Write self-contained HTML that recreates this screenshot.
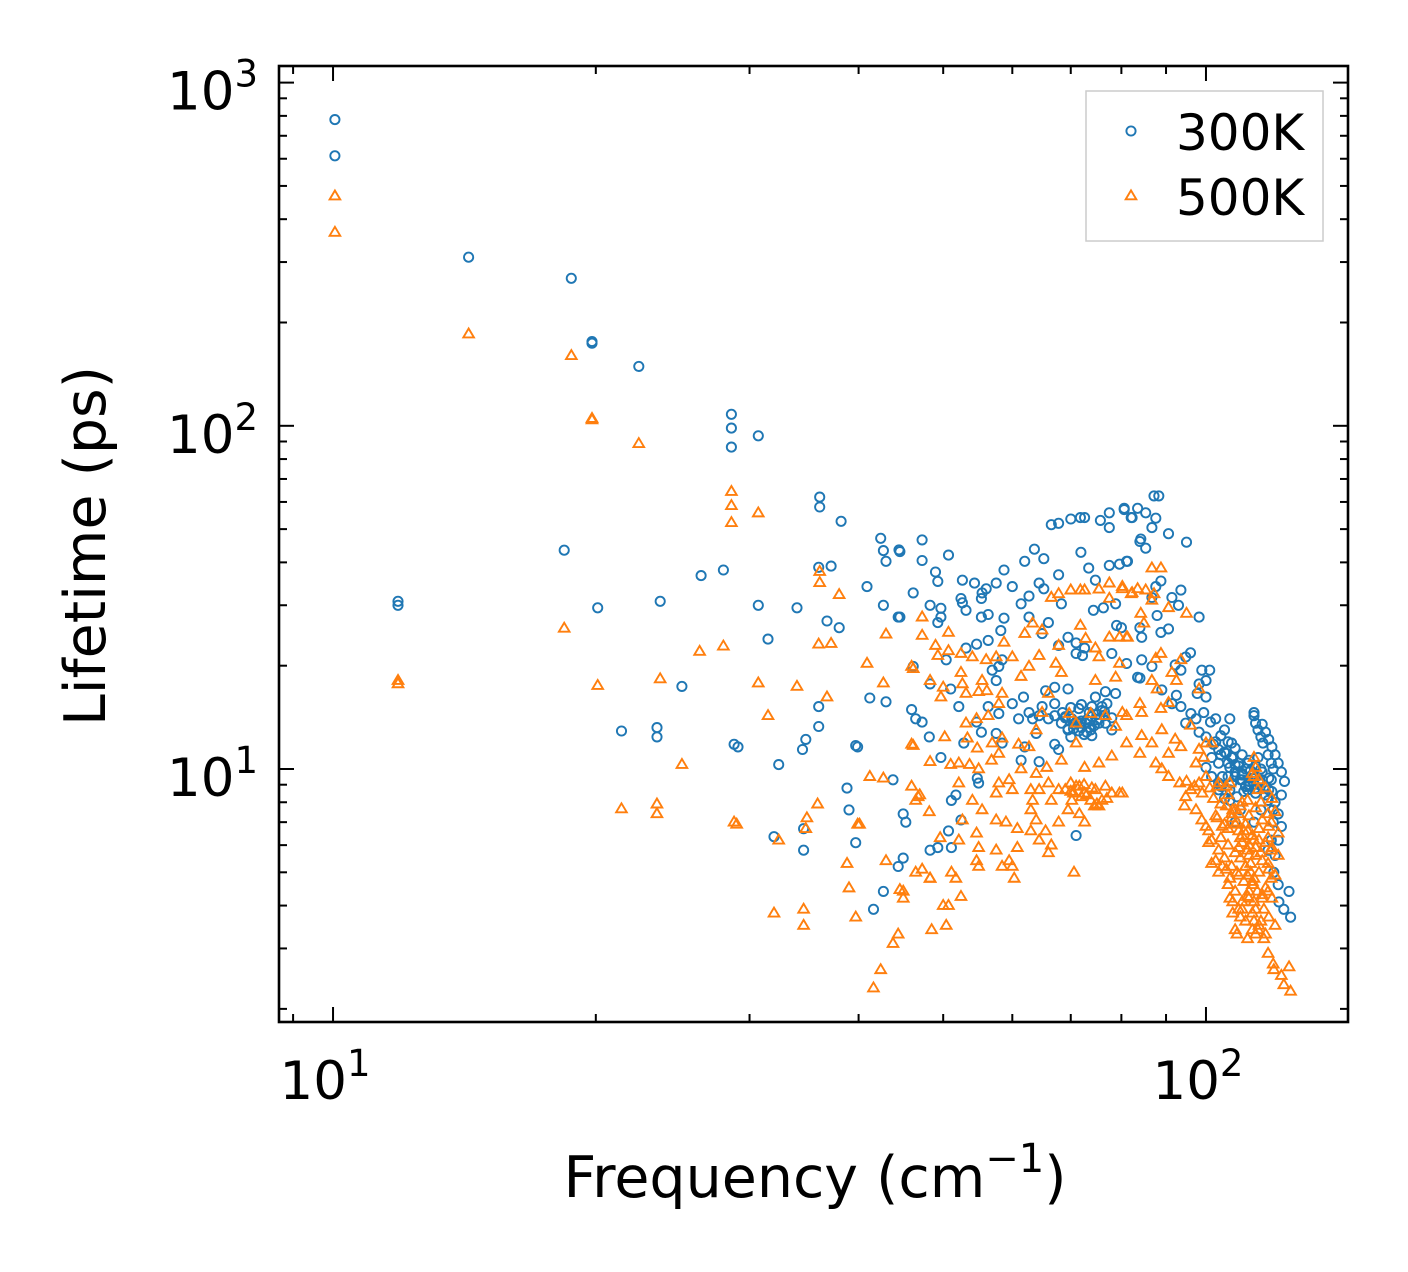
<!DOCTYPE html>
<html><head><meta charset="utf-8"><style>
html,body{margin:0;padding:0;background:#fff;}
svg{display:block;font-family:"DejaVu Sans","Liberation Sans",sans-serif;}
</style></head><body>
<svg id="chart" width="1408" height="1272" viewBox="0 0 1408 1272" xmlns="http://www.w3.org/2000/svg">
<rect width="1408" height="1272" fill="#fff"/>
<g id="marks"></g>
<g id="axes"></g>
</svg>
<script>
const xTickValues=[10,100];
const xTickExps=["1","2"];
const yTickValues=[10,100,1000];
const yTickExps=["1","2","3"];
const seriesNames=["300K","500K"];
const freq300=[10.05,10.05,11.87,11.87,14.3,18.75,18.4,19.8,19.8,20.1,22.4,21.4,23.5,23.5,23.7,25.1,26.4,28.0,28.6,28.6,28.6,28.8,29.1,30.7,30.7,31.5,32.4,32.0,34.0,34.5,34.8,34.6,34.6,36.0,36.0,36.0,36.1,36.1,36.8,37.2,38.0,38.2,38.8,39.0,39.7,39.9,39.7,40.9,41.2,41.6,42.4,42.7,42.7,42.7,43.0,43.0,43.8,44.5,44.6,
44.6,47.3,47.3,50.7,49,49.3,52.6,54.3,56,57.5,58.7,62,63.6,65.2,66.5,67.8,70,71.8,72.6,75.7,77.5,80.6,82.3,77.5,84,71.9,73.4,74.7,77.5,79.6,81.3,67.8,64.4,65.2,60,46.2,52.4,52.6,55.4,55.3,61.4,62.7,68.3,74.3,76.3,78.8,79,48.3,49.7,53.1,49.3,49.7,55.3,56.3,58.7,62.7,66,64.9,69.5,71,72.6,67.8,71,72.2,78,81.1,83.5,53.1,54.6,56.3,58.2,58.4,56.9,57.5,57.9,50.4,46.2,48.3,51,52.1,46,46.5,47.3,48.2,49.7,54.6,55.3,52.8,56.3,57.9,57.5,58.4,60,61.8,61,62.7,63.3,63.9,65.5,67.1,69.5,67.1,64.9,64.4,66,67.1,68.3,70.2,71.8,72.8,73.8,75.4,76.7,74.7,76.7,78.8,76,78,67.1,67.8,64.4,62,61.4,69.5,70,54.9,54.7,51.7,51.1,45,45.3,50.7,48.3,49.3,51.1,45,44.4,71,52.4,44.4,
87.2,88.3,80.6,83.5,82.1,85.3,87.6,86.7,90.6,95,84.2,85.3,81.1,88.8,87.6,93.6,86.7,91.4,93,87.9,98.2,84,90.6,88.8,84.4,80,96,94.8,84.4,86.7,84,92.2,93.6,98.9,101,100,98.2,97.7,100,92.5,89,91.4,93.6,96.1,94.8,97.4,99.4,101.2,102.6,106.5,105,98.2,100,102.6,107,105.5,107.3,103.4,101.5,103.4,106.5,108,104.4,109.5,111,106.5,108.5,113.5,113.5,114,114.7,115.6,116.2,117.8,118.8,119.4,118.8,118,117.8,119.4,119.4,118.8,117.8,119.6,121,124.5,122.8,125,121.2,114.7,115.6,115,115.6,113.5,111.6,111.6,103.4,101.5,100,109.5,108,106.5,103.4,
72,74,70.5,73,75,71.5,69,73.5,76,72.5,70,74.5,68.5,71,73,75.5,72,69.5,74,76.5,110,112,108,111,113,109,107,110.5,112.5,114,116,117,105,104,106,108,110,112,
104,106,108,110,112,114,116,118,105,107,109,111,113,115,117,119,120,121,122,121,120,116,117,118,119,120,121,122,123,122,102,104,106,108,110,112,114,
72,73.5,75,76.5,70.5,71.5,74,77,69,78];
const life300=[780,612,30.8,30,310,269,43.4,176,174,29.5,149,12.9,13.2,12.4,30.8,17.4,36.6,38,108,98.5,86.7,11.8,11.6,93.5,30,23.9,10.3,6.35,29.5,11.4,12.2,5.8,6.7,13.3,15.2,38.7,62,58,27,39,25.8,52.7,8.8,7.6,11.7,11.6,6.1,34,16.1,3.9,47,43.3,30,4.4,15.7,40.3,9.3,43.5,27.7,
43,46.5,40.5,42,37.5,35.2,35.5,34.8,33.5,34.8,38,40.3,43.7,41,51.5,52,53.5,54,54,53,55.8,57,54,50.5,46,42.8,38.5,35.5,39.2,39.5,40.3,36.8,34.8,33.5,34,32.6,31.4,30.5,32.6,31.4,30.3,31.9,30.3,29,29.5,30.3,26.2,30,29.4,29,26.7,27.7,27.7,28.2,27.5,27.7,26.7,24.8,24.2,23.3,22.5,22.9,21.7,21.4,21.7,20.3,18.5,22.5,23.1,23.7,25.3,20.8,19.4,18.1,19.9,20.8,19.9,17.7,17.1,15.2,14.9,14,13.7,12.4,10.8,13.7,12.8,11.9,15.2,14.5,12.7,11.9,15.5,16.2,14,14.6,14,12.7,16.9,17.3,17.1,15.5,15.2,14.3,14,14.3,13.6,14,13.6,13.6,13,13.6,13.6,16.2,16.8,16.6,15.2,13,11.8,11.4,10.5,11.6,10.6,13,12.4,9.1,9.4,8.4,8.1,7.4,7,6.6,5.8,5.9,5.9,5.5,5.2,6.4,7.1,27.7,
62.5,62.5,57.5,57.5,54,55.8,53.8,50.5,48.5,45.8,46.8,44,40.3,35.3,34,33.2,31.6,31.6,30,28,27.7,25.8,25.6,25,24.2,25.8,21.8,21.2,20.8,19.9,18.4,20.1,19.4,19.4,19.4,18.1,17.7,16.6,16.2,16.4,17,15.5,15.2,14.5,13.6,14,14.6,13.7,14,14,13,12.8,12.4,12,11.9,11.1,10.8,11.4,10.8,10.4,10.1,9.5,9.5,9.3,8.9,8.7,8.3,14.6,14.3,13.6,13,12.4,11.9,11,10.4,10,9.3,8.7,8.1,7.6,7,6.2,5.8,5,4.6,4.4,3.9,3.7,4.1,10.8,10,9.1,7.6,7,10.4,8.7,9.1,9.5,10.1,7.6,7,8.1,8.7,
13.8,14.2,13.5,13.9,14.4,12.9,14.1,13.2,14.8,12.6,15.1,13.4,14.6,13.7,12.8,14,15.4,13.1,12.5,14.3,9.6,9.2,9.8,8.9,9.4,10.2,9.1,8.6,9.9,8.8,9.3,8.4,8.2,8.9,9.5,10.3,9.7,9.0,
12.5,12,11.5,11,10.6,10.2,9.8,9.4,11.2,10.8,10.4,10,9.6,9.2,8.9,8.6,8.0,7.4,6.8,6.2,5.6,13.5,12.8,12.2,11.6,11.0,10.4,9.8,9.2,8.4,11.8,11.0,10.4,9.8,9.3,8.9,8.5,
13.2,14.6,13.9,14.7,13.1,15.0,15.2,15.5,14.2,14.1];
const freq500=[10.05,10.05,11.87,11.87,14.3,18.75,18.4,19.8,19.8,20.1,21.4,22.4,23.5,23.5,23.7,25.1,26.3,28.0,28.6,28.6,28.6,28.8,29.0,30.7,30.7,31.5,32.0,32.4,34.0,34.6,34.6,34.9,34.8,35.9,36.0,36.1,36.1,36.8,37.2,38.0,38.8,39.0,39.7,39.9,40.1,40.9,41.2,41.6,42.4,42.7,42.7,43,43,43.8,44.4,44.6,45,46.2,46,46.5,47,47.3,48.3,48.5,50,50.4,
47.3,47.3,50.7,46,49,49.3,50.7,52.4,54,56,57.5,60,58.7,62,63.3,64.9,66.5,67.8,70,71.8,72.6,75.4,77.5,77.5,80.2,82.3,71.8,67.8,72.8,74.7,77.5,79.6,81.3,75.4,79.6,64.4,62.7,61.4,67.3,68.3,74.7,78.8,48.3,50,49.7,52.4,52.6,53.1,54.9,55.4,56.1,58.4,57.9,56.3,53.1,54.6,53.3,50.2,46.2,48.3,51,52.1,53.6,54.7,54.9,56.9,58.4,57.9,56.8,61,62.7,63.9,64.9,66,69.7,71,73.8,76.7,78.8,81.1,71,81.1,78,75.4,72.6,68.3,65.7,63.9,61.4,59.5,57.9,57.5,60,63,64.4,66,67.8,70,71.6,72.6,74.7,76.7,78,80.2,73.8,75.4,70.2,66.5,63.3,63,63.9,69.5,71.6,72.6,67.8,65.5,63,60.8,59,57.5,55.4,54,52.1,46,46.8,48.2,52.6,54.6,52.1,49.6,54.9,57.5,60.8,66.5,66,64.4,59.5,54.6,54.9,58.4,60,60.3,70.6,46.5,48.3,51.1,51.7,52.4,45,50.7,
86.7,88.8,80.2,83.5,82.1,85.3,87.2,86.7,90.6,95,84.2,84.9,81.1,88.8,87.6,93.6,86.7,91.4,92.5,87.9,98.2,84,90.6,88.8,84.4,80.2,96,89,84.4,86.7,84,92.2,90.6,93.6,87.6,90.6,89,93.3,97.4,98.2,100,99.4,101.5,94.8,94.5,96.1,98.2,100,97.4,98.9,100.7,101.5,103.4,101.5,103.4,106.5,105.5,106.5,107.3,108.5,111.6,114.7,116.5,117.8,119.4,119.6,122,124.5,122.8,125,103.4,105.5,106.5,105.5,107.3,109.5,111.6,113.5,114,113.5,114.7,115.6,117.8,118.8,117.8,118.8,117.8,118.8,117.8,116.5,115.6,108.5,109.5,111.6,113.5,111.6,109.5,112.5,108.5,110.5,113.5,111.6,107.3,113.5,109.5,113.5,104.4,102.6,100,100.7,102.6,104.4,79.6,
70,72,74,76,71,73,75,69,77,72.5,74.5,70.5,110,112,114,108,111,113,115,109,116,107,110.5,112.5,114.5,106,111.5,113,115.5,109,108,110,112,114,
102,104,106,108,110,112,114,116,118,103,105,107,109,111,113,115,117,119,104,106,108,110,112,114,116,118,120,105,107,109,111,113,115,117,119,106,108,110,112,114,116,118,120,109,111,113,115,117,101,103,99,97,95,121,121,120,119,117,115,113];
const life500=[467,366,18.1,17.7,185,160,25.7,105,104,17.5,7.65,88.7,7.9,7.4,18.3,10.3,22.0,22.8,64.3,58.5,52.2,7.0,6.9,55.7,17.8,14.3,3.8,6.2,17.4,3.9,3.5,7.2,6.7,7.9,23.1,37.6,34.9,16.2,23.2,32.2,5.3,4.5,3.7,6.9,6.9,20.3,9.5,2.3,2.6,9.4,17.8,24.7,5.4,3.1,3.3,4.45,4.2,19.6,11.8,8.1,8.4,5.1,4.8,3.4,4.0,3.5,
27.7,24.5,25,19.9,22.9,21.4,22.1,21.7,21.2,20.8,21.2,21.2,23.4,24.8,26.6,25.4,31.6,32.4,33.2,33.2,33.2,33.4,34.8,31.4,34,32.6,26.2,22.9,24,22.5,24.2,24.2,24.2,21.2,20.3,21.4,19.9,18.6,20.3,19.1,18.1,18.5,18.1,17.3,16.2,19.1,17.7,16.6,16.8,18.1,16.9,16.6,15.5,14.3,13.6,14,12.3,12.4,11.7,10.5,10.3,10.4,10.3,11.5,10,11.9,12.3,11.1,10.6,11.8,11.6,13,14.6,16.6,14.5,13.6,14.5,14.3,13.3,14.3,11.9,11.9,10.9,10.4,10.1,10.6,10.1,9.7,10,9.3,9.1,8.5,8.7,8.7,8.7,9.1,8.7,9.1,8.9,8.5,8.7,8.9,8.5,8.5,8.1,7.8,8.1,8.1,8.1,7.6,7.1,7.6,7.4,7,7,6.6,6.6,6.7,7,7.1,7.6,8.1,9.1,8.9,8.3,7.5,7.1,6.5,6.2,6.3,5.9,5.8,5.9,6,5.7,6.2,5.4,5.4,5.2,5.2,5.2,4.8,5,5,4.8,5,4.8,4.25,4.4,4,
38.5,38.5,33.5,33.5,32.4,33.2,32.4,31,29.5,28.4,28.4,26.6,24.2,21.7,21,20.8,18.1,19.1,18.1,17.1,17.1,15.5,15.6,15,14.6,14.6,13.4,13,12.5,11.9,11.1,12.2,11.1,11.6,10.4,9.5,10,9.1,10.4,11.4,11.9,10.8,11.9,8.3,7.8,8.7,9.1,9.5,7.6,7.1,6.6,6.2,5.8,5.3,5,4.8,5.1,4.2,3.8,3.3,3.2,3.4,3.2,2.9,2.7,2.6,2.5,2.65,2.35,2.25,9.1,8.9,9.1,7.8,7.6,7.8,8.1,10.8,10.1,9.5,8.7,8,7.4,7,6.3,5.8,5.3,4.8,4.4,3.9,3.6,7,6.3,6.6,6.2,5.8,5.5,5.3,5,4.7,4.8,4.25,4.1,4.1,3.7,3.6,6.8,7.3,6.8,6.1,5.4,5.2,8.5,
8.6,8.3,8.8,8.1,8.9,8.4,7.9,8.7,8.2,9.0,7.8,8.5,6.4,6.0,5.6,6.9,5.2,4.6,6.2,5.9,4.3,7.2,6.6,5.0,4.4,6.7,4.9,3.8,5.7,7.4,3.4,3.9,4.2,3.3,
8.2,7.9,8.4,7.6,8.0,7.3,7.7,7.1,6.8,7.2,6.9,7.4,6.6,6.9,6.4,6.7,6.1,5.9,6.3,6.0,5.7,6.1,5.6,5.9,5.4,5.1,4.9,5.5,5.2,4.9,5.2,4.7,5.0,4.5,4.2,4.6,4.4,4.1,4.4,3.9,4.2,3.7,3.5,3.9,3.6,3.4,3.5,3.3,8.8,8.9,8.5,8.9,9.2,6.5,5.6,7.5,8.2,8.8,9.3,9.7];

const NS="http://www.w3.org/2000/svg";
const L=279,R=1348,T=66,B=1022;
const xLogMin=0.9381,xLogMax=2.1627,yLogMin=0.2628,yLogMax=3.0484;
function xs(v){return L+(Math.log10(v)-xLogMin)/(xLogMax-xLogMin)*(R-L);}
function ys(v){return B-(Math.log10(v)-yLogMin)/(yLogMax-yLogMin)*(B-T);}
function mk(tag,attrs,parent){const e=document.createElementNS(NS,tag);for(const k in attrs)e.setAttribute(k,attrs[k]);parent.appendChild(e);return e;}
const marks=document.getElementById('marks');
const axes=document.getElementById('axes');
const blue="#1f77b4",orange="#ff7f0e";
const g300=mk('g',{},marks);


for(let i=0;i<freq300.length;i++){
  const c=mk('circle',{cx:xs(freq300[i]).toFixed(1),cy:ys(life300[i]).toFixed(1),r:4.6,fill:'none',stroke:blue,'stroke-width':1.9},g300);
  
  
}
const g500=mk('g',{},marks);


function tri(cx,cy,s){return `${cx},${cy-s} ${cx-s*0.95},${cy+s*0.6} ${cx+s*0.95},${cy+s*0.6}`;}
for(let i=0;i<freq500.length;i++){
  const p=mk('polygon',{points:tri(xs(freq500[i]),ys(life500[i]),5.6),fill:'none',stroke:orange,'stroke-width':1.9},g500);
  
  
}
const tk=mk('g',{stroke:'#000','stroke-width':2},axes);


for(let d=0;d<=3;d++){for(let m=1;m<=9;m++){
  const v=m*Math.pow(10,d);const lv=Math.log10(v);
  const len=m===1?15:8;
  if(lv>=xLogMin&&lv<=xLogMax){const x=xs(v);mk('line',{x1:x,x2:x,y1:B,y2:B-len},tk);mk('line',{x1:x,x2:x,y1:T,y2:T+len},tk);}
  if(lv>=yLogMin&&lv<=yLogMax){const y=ys(v);mk('line',{x1:L,x2:L+len,y1:y,y2:y},tk);mk('line',{x1:R,x2:R-len,y1:y,y2:y},tk);}
}}
const frame=mk('rect',{x:L,y:T,width:R-L,height:B-T,fill:'none',stroke:'#000','stroke-width':2.6},axes);


for(let i=0;i<xTickValues.length;i++){
  const t=mk('text',{x:xs(xTickValues[i])-8,y:1099,'font-size':53,'text-anchor':'middle',fill:'#000'},axes);
  
  
  t.textContent='10';
  const s=mk('tspan',{dy:-23,'font-size':37},t);s.textContent=xTickExps[i];
}
for(let i=0;i<yTickValues.length;i++){
  const t=mk('text',{x:258,y:ys(yTickValues[i])+27,'font-size':53,'text-anchor':'end',fill:'#000'},axes);
  
  
  t.textContent='10';
  const s=mk('tspan',{dy:-23,'font-size':37},t);s.textContent=yTickExps[i];
}
const xt=mk('text',{x:815,y:1197,'font-size':57,'text-anchor':'middle',fill:'#000'},axes);


xt.textContent='Frequency (cm';
const xs1=mk('tspan',{dy:-25,'font-size':40},xt);xs1.textContent='\u22121';
const xs2=mk('tspan',{dy:25},xt);xs2.textContent=')';
const yt=mk('text',{x:0,y:0,'font-size':57,'text-anchor':'middle',fill:'#000',transform:'translate(105,546) rotate(-90)'},axes);


yt.textContent='Lifetime (ps)';
const lg=mk('g',{},axes);


mk('rect',{x:1086,y:91,width:237,height:150,fill:'#fff',stroke:'#ccc','stroke-width':1.5},lg);
const le1=mk('g',{},lg);


mk('circle',{cx:1131,cy:131,r:4.6,fill:'none',stroke:blue,'stroke-width':1.9},le1);
const t1=mk('text',{x:1176,y:150,'font-size':50,fill:'#000'},le1);t1.textContent=seriesNames[0];
const le2=mk('g',{},lg);


mk('polygon',{points:tri(1131,196,5.6),fill:'none',stroke:orange,'stroke-width':1.9},le2);
const t2=mk('text',{x:1176,y:215,'font-size':50,fill:'#000'},le2);t2.textContent=seriesNames[1];
</script>
</body></html>
